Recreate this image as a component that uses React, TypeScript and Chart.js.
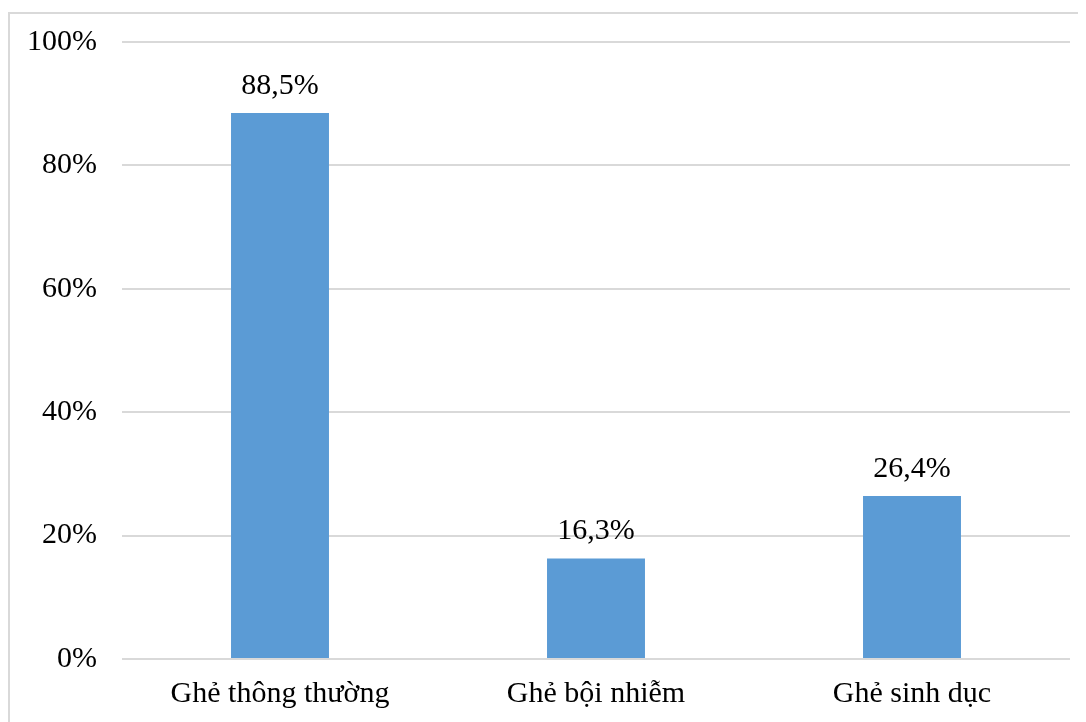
import React, { useEffect, useRef } from "react";
import { Chart, registerables } from "chart.js";

Chart.register(...registerables);

const categories = ["Ghẻ thông thường", "Ghẻ bội nhiễm", "Ghẻ sinh dục"];
const values = [88.5, 16.3, 26.4];
const yTicks = [0, 20, 40, 60, 80, 100];

const FONT = "'Liberation Serif', 'Times New Roman', serif";
const FONT_SIZE = 30;

const fmt = (v: number) => v.toFixed(1).replace(".", ",") + "%";

const dataLabelPlugin = {
  id: "dataLabels",
  afterDatasetsDraw(chart: any) {
    const ctx = chart.ctx;
    const meta = chart.getDatasetMeta(0);
    ctx.save();
    ctx.font = `${FONT_SIZE}px ${FONT}`;
    ctx.fillStyle = "#000";
    ctx.textAlign = "center";
    ctx.textBaseline = "alphabetic";
    meta.data.forEach((bar: any, i: number) => {
      ctx.fillText(fmt(values[i]), bar.x, bar.y - 19);
    });
    ctx.restore();
  },
};

export default function App() {
  const ref = useRef<HTMLCanvasElement | null>(null);
  useEffect(() => {
    if (!ref.current) return;
    const chart = new Chart(ref.current, {
      type: "bar",
      data: {
        labels: categories,
        datasets: [
          {
            data: values,
            backgroundColor: "#5b9bd5",
            borderWidth: 0,
            barPercentage: 0.31,
            categoryPercentage: 1,
          },
        ],
      },
      options: {
        responsive: false,
        animation: false,
        layout: { padding: { top: 28, right: 16, left: 0, bottom: 0 } },
        plugins: { legend: { display: false }, tooltip: { enabled: false } },
        scales: {
          x: {
            grid: { display: false, drawTicks: false },
            border: { display: false },
            ticks: {
              color: "#000",
              font: { family: FONT, size: FONT_SIZE },
              padding: 17,
              maxRotation: 0,
            },
            afterFit(scale: any) {
              scale.height = 63;
              scale.paddingLeft = 0;
              scale.paddingRight = 0;
            },
          },
          y: {
            min: 0,
            max: 100,
            afterBuildTicks(scale: any) {
              scale.ticks = yTicks.map((v) => ({ value: v }));
            },
            grid: { color: "#d9d9d9", lineWidth: 2, drawTicks: false },
            border: { display: false },
            ticks: {
              color: "#000",
              font: { family: FONT, size: FONT_SIZE },
              padding: 25,
              callback: (v: any) => v + "%",
            },
            afterFit(scale: any) {
              scale.width = 112;
              scale.paddingTop = 0;
              scale.paddingBottom = 0;
            },
          },
        },
      },
      plugins: [dataLabelPlugin],
    });
    return () => chart.destroy();
  }, []);

  return (
    <div
      style={{
        marginTop: 4,
        borderLeft: "2px solid #d9d9d9",
        borderTop: "2px solid #d9d9d9",
        width: 1076,
        height: 708,
        background: "#fff",
      }}
    >
      <canvas ref={ref} width={1076} height={708} style={{ display: "block" }} />
    </div>
  );
}
